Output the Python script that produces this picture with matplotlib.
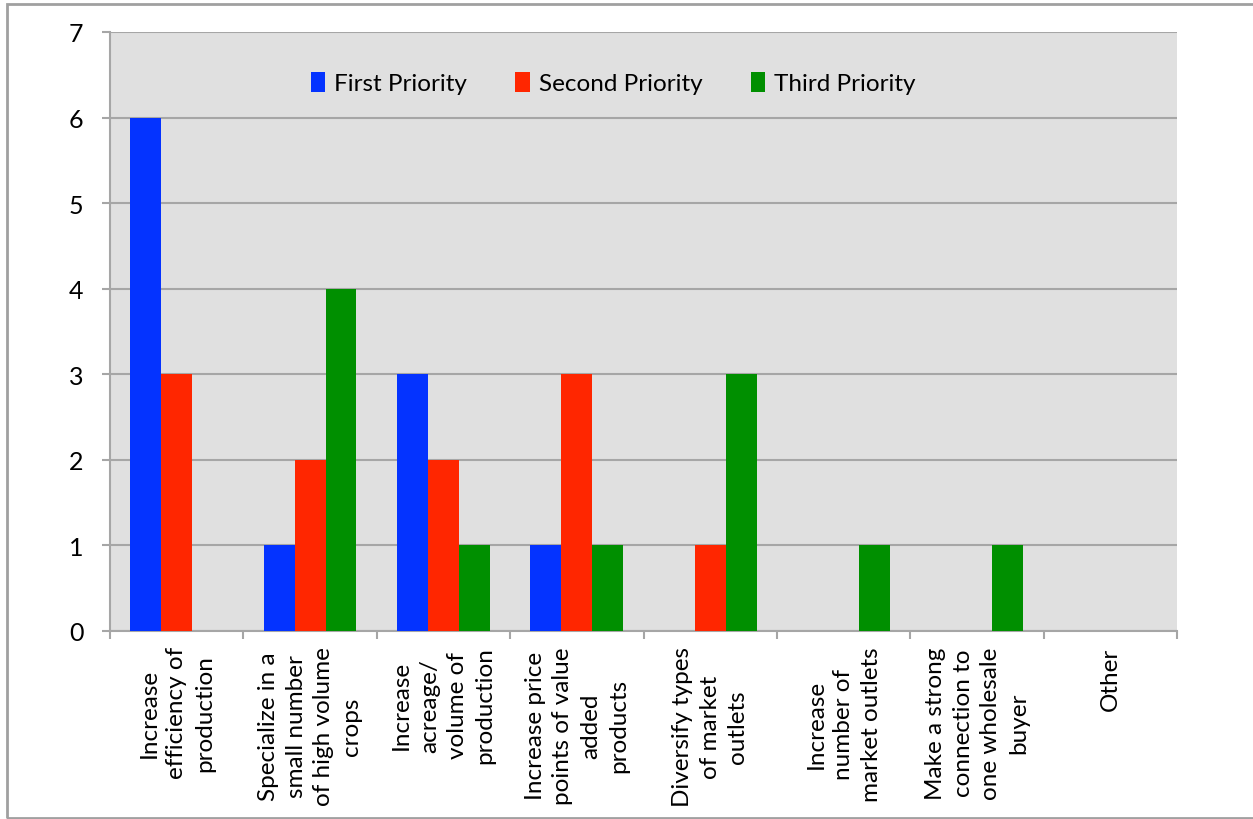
import matplotlib
matplotlib.use("Agg")
import matplotlib.pyplot as plt
from matplotlib.patches import Rectangle
from matplotlib.transforms import ScaledTranslation
import numpy as np

categories = [
    "Increase\nefficiency of\nproduction",
    "Specialize in a\nsmall number\nof high volume\ncrops",
    "Increase\nacreage/\nvolume of\nproduction",
    "Increase price\npoints of value\nadded\nproducts",
    "Diversify types\nof market\noutlets",
    "Increase\nnumber of\nmarket outlets",
    "Make a strong\nconnection to\none wholesale\nbuyer",
    "Other",
]
first_priority = [6, 1, 3, 1, 0, 0, 0, 0]
second_priority = [3, 2, 2, 3, 1, 0, 0, 0]
third_priority = [0, 4, 1, 1, 3, 1, 1, 0]
series_names = ["First Priority", "Second Priority", "Third Priority"]
series_colors = ["#0433FF", "#FF2600", "#008F00"]
y_ticks = [0, 1, 2, 3, 4, 5, 6, 7]

plt.rcParams["font.family"] = ["Lato", "DejaVu Sans"]

fig = plt.figure(figsize=(12.53, 8.20), dpi=100)
fig.patch.set_facecolor("white")

# outer chart frame (right edge runs past the canvas)
fig.add_artist(Rectangle((7 / 1253, 1 - 819 / 820), 1260 / 1253, 814 / 820,
                         transform=fig.transFigure, fill=False,
                         edgecolor="#A0A0A0", linewidth=2.0))

ax = fig.add_axes([110 / 1253, 1 - 632 / 820, 1067 / 1253, 599 / 820])
ax.set_facecolor("#E0E0E0")

x = np.arange(len(categories))
w = 0.232
series = [first_priority, second_priority, third_priority]
for i, (vals, name, col) in enumerate(zip(series, series_names, series_colors)):
    ax.bar(x + (i - 1) * w, vals, width=w, color=col, label=name, zorder=3)

ax.set_xlim(-0.5, len(categories) - 0.5)
ax.set_ylim(0, 7)
ax.set_yticks(y_ticks)
ax.set_yticklabels([str(t) for t in y_ticks], fontsize=18)
for lbl in ax.get_yticklabels():
    lbl.set_transform(lbl.get_transform() + ScaledTranslation(0, -3 / 100, fig.dpi_scale_trans))
ax.yaxis.grid(True, color="#A6A6A6", linewidth=1.5, zorder=0)
ax.set_axisbelow(True)

# category boundary ticks
ax.set_xticks(np.arange(-0.5, len(categories), 1.0))
ax.set_xticklabels([])
ax.tick_params(axis="x", which="major", length=6, width=1.5, color="#A6A6A6")
ax.set_xticks(x, minor=True)
ax.set_xticklabels(categories, minor=True, rotation=90, fontsize=17.5,
                   multialignment="center", linespacing=1.4)
ax.tick_params(axis="x", which="minor", length=0, pad=11)
ax.tick_params(axis="y", length=6, width=1.5, color="#A6A6A6", pad=13)

for side in ["top", "right"]:
    ax.spines[side].set_visible(False)
for side in ["left", "bottom"]:
    ax.spines[side].set_color("#A6A6A6")
    ax.spines[side].set_linewidth(1.5)

leg = ax.legend(loc="center", bbox_to_anchor=(0.4715, 0.915), ncol=3,
                frameon=False, fontsize=17.5, handlelength=0.6, handleheight=0.9,
                handletextpad=0.35, columnspacing=2.0)

fig.savefig("out.png", dpi=100)
